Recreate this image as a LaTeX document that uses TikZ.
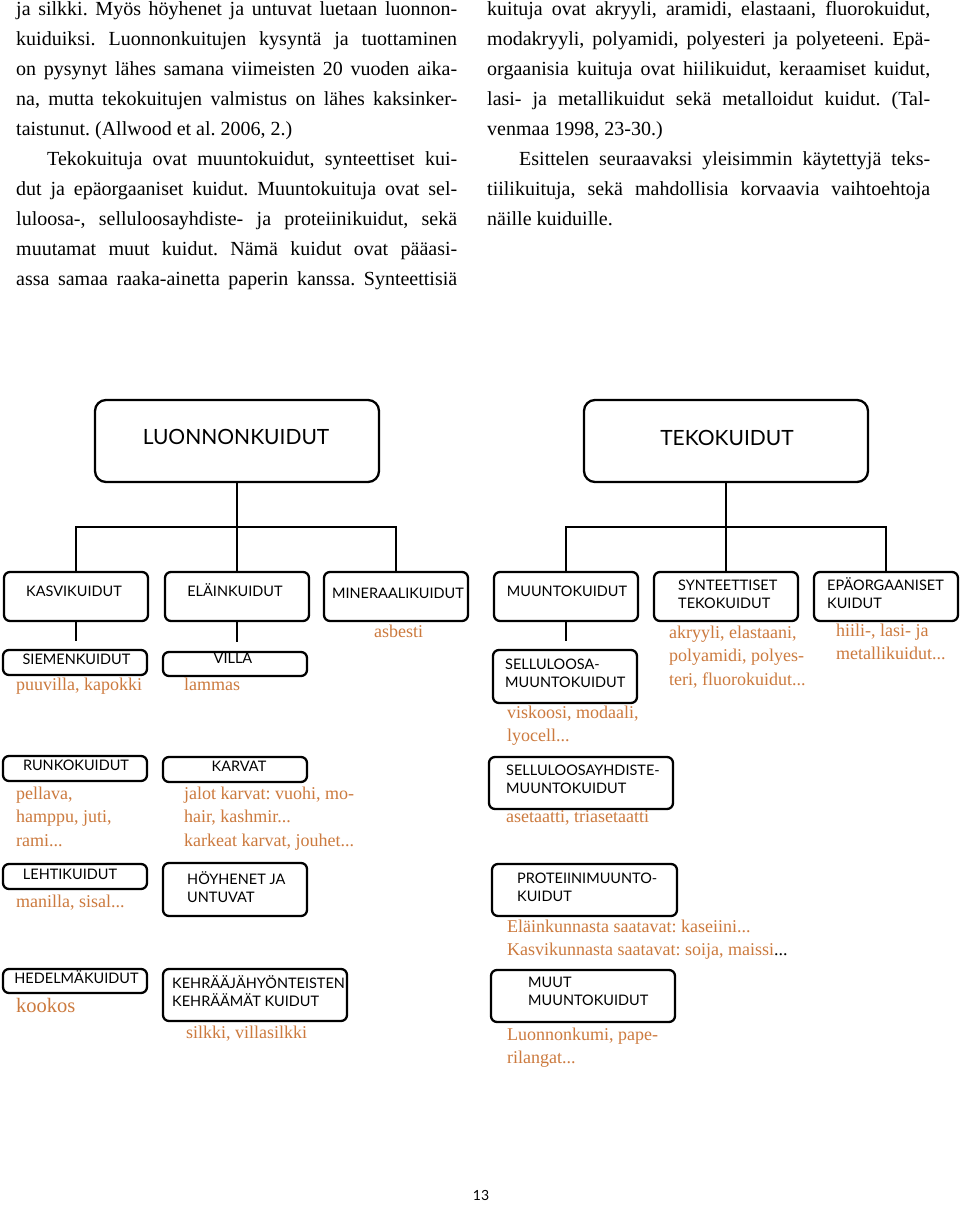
\documentclass[tikz,border=0pt]{standalone}
\usepackage{fontspec}
\setmainfont{Liberation Serif}
\newfontfamily\labfont{Lato}
\definecolor{notec}{RGB}{204,122,62}
\newcommand\stk[1]{\begin{tabular}[t]{@{}l@{}}#1\end{tabular}}
\newcommand\jl[1]{\makebox[441pt][s]{#1}}
\newcommand\jr[1]{\makebox[443pt][s]{#1}}
\frenchspacing
\begin{document}
\begin{tikzpicture}[x=1pt,y=-1pt,
  box/.style={draw, line width=2.3pt, rounded corners=6pt, inner sep=0pt},
  bigbox/.style={box, rounded corners=11pt, minimum width=284pt, minimum height=82pt},
  lab/.style={font=\labfont\fontsize{14.5}{18}\selectfont, inner sep=0pt, anchor=base west},
  clab/.style={lab, anchor=base},
  biglab/.style={font=\labfont\fontsize{21}{24}\selectfont, inner sep=0pt, anchor=base},
  note/.style={text=notec, font=\fontsize{18}{23.5}\selectfont, inner sep=0pt, anchor=base west},
  body/.style={font=\fontsize{20}{30}\selectfont, inner sep=0pt, anchor=base west},
  conn/.style={line width=2.3pt}]
\useasboundingbox (0,0) rectangle (960,1212);
\fill[white] (0,0) rectangle (960,1212);

% ---------- body text ----------
\node[body] (colL) at (16,16) {\stk{%
\jl{ja silkki. Myös höyhenet ja untuvat luetaan luonnon-}\\
\jl{kuiduiksi. Luonnonkuitujen kysyntä ja tuottaminen}\\
\jl{on pysynyt lähes samana viimeisten 20 vuoden aika-}\\
\jl{na, mutta tekokuitujen valmistus on lähes kaksinker-}\\
taistunut. (Allwood et al. 2006, 2.)\\
\jl{\hspace*{31pt}Tekokuituja ovat muuntokuidut, synteettiset kui-}\\
\jl{dut ja epäorgaaniset kuidut. Muuntokuituja ovat sel-}\\
\jl{luloosa-, selluloosayhdiste- ja proteiinikuidut, sekä}\\
\jl{muutamat muut kuidut. Nämä kuidut ovat pääasi-}\\
\jl{assa samaa raaka-ainetta paperin kanssa. Synteettisiä}}};
\node[body] (colR) at (487,16) {\stk{%
\jr{kuituja ovat akryyli, aramidi, elastaani, fluorokuidut,}\\
\jr{modakryyli, polyamidi, polyesteri ja polyeteeni. Epä-}\\
\jr{orgaanisia kuituja ovat hiilikuidut, keraamiset kuidut,}\\
\jr{lasi- ja metallikuidut sekä metalloidut kuidut. (Tal-}\\
venmaa 1998, 23-30.)\\
\jr{\hspace*{32pt}Esittelen seuraavaksi yleisimmin käytettyjä teks-}\\
\jr{tiilikuituja, sekä mahdollisia korvaavia vaihtoehtoja}\\
näille kuiduille.}};

% ---------- top boxes ----------
\node[bigbox] (luon) at (237,441) {};
\node[biglab] (luon-t) at (236,444) {LUONNONKUIDUT};
\node[bigbox] (teko) at (726,441) {};
\node[biglab] (teko-t) at (727,445) {TEKOKUIDUT};

% ---------- category boxes ----------
\node[box, minimum width=144pt, minimum height=49pt] (kasvi) at (76,596.5) {};
\node[clab] (kasvi-t) at (74,596) {KASVIKUIDUT};
\node[box, minimum width=144pt, minimum height=49pt] (elain) at (237,596.5) {};
\node[clab] (elain-t) at (235,596) {ELÄINKUIDUT};
\node[box, minimum width=144pt, minimum height=49pt] (miner) at (396,596.5) {};
\node[clab] (miner-t) at (398,598) {MINERAALIKUIDUT};
\node[box, minimum width=144pt, minimum height=49pt] (muunto) at (566,596.5) {};
\node[clab] (muunto-t) at (567,596) {MUUNTOKUIDUT};
\node[box, minimum width=144pt, minimum height=49pt] (synt) at (726,596.5) {};
\node[lab] (synt-t) at (678,590) {\stk{SYNTEETTISET\\TEKOKUIDUT}};
\node[box, minimum width=144pt, minimum height=49pt] (epa) at (886,596.5) {};
\node[lab] (epa-t) at (827,590) {\stk{EPÄORGAANISET\\KUIDUT}};

% ---------- connectors ----------
\coordinate (lbar) at (237,527);
\coordinate (tbar) at (726,527);
\draw[conn] (luon.south) -- (lbar);
\draw[conn] (kasvi.north) |- (lbar) -| (miner.north);
\draw[conn] (lbar) -- (elain.north);
\draw[conn] (teko.south) -- (tbar);
\draw[conn] (muunto.north) |- (tbar) -| (epa.north);
\draw[conn] (tbar) -- (synt.north);
\coordinate (kasvi-tail) at (76,641);
\coordinate (elain-tail) at (237,642);
\coordinate (muunto-tail) at (566,641);
\draw[conn] (kasvi.south) -- (kasvi-tail);
\draw[conn] (elain.south) -- (elain-tail);
\draw[conn] (muunto.south) -- (muunto-tail);

% ---------- natural fibre sub-boxes ----------
\node[box, minimum width=144pt, minimum height=25pt] (siemen) at (75,662.5) {};
\node[clab] (siemen-t) at (76.5,664) {SIEMENKUIDUT};
\node[box, minimum width=144pt, minimum height=24pt] (villa) at (235,664) {};
\node[clab] (villa-t) at (233,663) {VILLA};
\node[box, minimum width=144pt, minimum height=25pt] (runko) at (75,768.5) {};
\node[clab] (runko-t) at (76,770) {RUNKOKUIDUT};
\node[box, minimum width=144pt, minimum height=25pt] (karvat) at (235,769.5) {};
\node[clab] (karvat-t) at (239,771) {KARVAT};
\node[box, minimum width=144pt, minimum height=25pt] (lehti) at (75,876.5) {};
\node[clab] (lehti-t) at (70,879) {LEHTIKUIDUT};
\node[box, minimum width=144pt, minimum height=53pt] (hoyhen) at (235,889.5) {};
\node[lab] (hoyhen-t) at (187,884) {\stk{HÖYHENET JA\\UNTUVAT}};
\node[box, minimum width=144pt, minimum height=24pt] (hedelma) at (75,981) {};
\node[clab] (hedelma-t) at (76.5,983) {HEDELMÄKUIDUT};
\node[box, minimum width=184pt, minimum height=52pt] (kehra) at (255,995) {};
\node[lab] (kehra-t) at (172,988) {\stk{KEHRÄÄJÄHYÖNTEISTEN\\KEHRÄÄMÄT KUIDUT}};

% ---------- man-made sub-boxes ----------
\node[box, minimum width=144pt, minimum height=53pt] (sell) at (565,676.5) {};
\node[lab] (sell-t) at (505,669) {\stk{SELLULOOSA-\\MUUNTOKUIDUT}};
\node[box, minimum width=184pt, minimum height=52pt] (sellyhd) at (581,783) {};
\node[lab] (sellyhd-t) at (506,775) {\stk{SELLULOOSAYHDISTE-\\MUUNTOKUIDUT}};
\node[box, minimum width=185pt, minimum height=52pt] (prot) at (584.5,890) {};
\node[lab] (prot-t) at (517,883) {\stk{PROTEIINIMUUNTO-\\KUIDUT}};
\node[box, minimum width=184pt, minimum height=52pt] (muut) at (583,996) {};
\node[lab] (muut-t) at (528,987) {\stk{MUUT\\MUUNTOKUIDUT}};

% ---------- examples ----------
\node[note] (n-asbesti) at (374,637) {asbesti};
\node[note] (n-siemen) at (16,690) {puuvilla, kapokki};
\node[note] (n-villa) at (184,690) {lammas};
\node[note] (n-runko) at (16,799) {\stk{pellava,\\hamppu, juti,\\rami...}};
\node[note] (n-karvat) at (184,799) {\stk{jalot karvat: vuohi, mo-\\hair, kashmir...\\karkeat karvat, jouhet...}};
\node[note] (n-lehti) at (16,907) {manilla, sisal...};
\node[note, font=\fontsize{20.5}{24}\selectfont] (n-hedelma) at (16,1012) {kookos};
\node[note] (n-kehra) at (186,1038) {silkki, villasilkki};
\node[note] (n-sell) at (507,718) {\stk{viskoosi, modaali,\\lyocell...}};
\node[note] (n-synt) at (669,638) {\stk{akryyli, elastaani,\\polyamidi, polyes-\\teri, fluorokuidut...}};
\node[note] (n-epa) at (836,636) {\stk{hiili-, lasi- ja\\metallikuidut...}};
\node[note] (n-sellyhd) at (506,822) {asetaatti, triasetaatti};
\node[note] (n-prot) at (507,932) {\stk{Eläinkunnasta saatavat: kaseiini...\\Kasvikunnasta saatavat: soija, maissi\textcolor{black}{...}}};
\node[note] (n-muut) at (507,1040) {\stk{Luonnonkumi, pape-\\rilangat...}};

% ---------- page number ----------
\node[font=\labfont\fontsize{14}{16}\selectfont, inner sep=0pt, anchor=base] (page) at (481,1200) {13};
\end{tikzpicture}
\end{document}
